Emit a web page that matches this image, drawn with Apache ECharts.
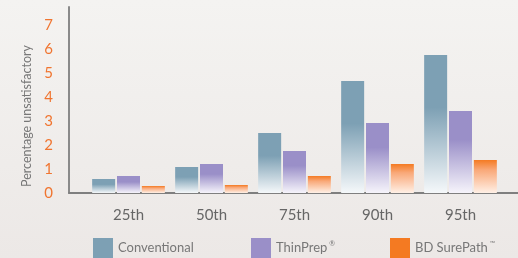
<!DOCTYPE html>
<html>
<head>
<meta charset="utf-8">
<script src="https://cdn.jsdelivr.net/npm/echarts@6/dist/echarts.min.js"></script>
<style>
html,body{margin:0;padding:0;}
#chart{width:518px;height:258px;}
</style>
</head>
<body>
<div id="chart"></div>
<script>
var categories = ['25th', '50th', '75th', '90th', '95th'];
var conventional = [0.58, 1.08, 2.5, 4.67, 5.75];
var thinPrep = [0.71, 1.21, 1.75, 2.92, 3.42];
var surePath = [0.29, 0.33, 0.71, 1.21, 1.38];
var yTicks = [0, 1, 2, 3, 4, 5, 6, 7];

function fade(top, mid, bottom, stop){
	return new echarts.graphic.LinearGradient(0, 0, 0, 1, [
		{offset: 0, color: top},
		{offset: stop, color: mid},
		{offset: 1, color: bottom}
	]);
}

var fontName = 'Lato, "Open Sans", sans-serif';
var chart = echarts.init(document.getElementById('chart'));
var option = {
	backgroundColor: new echarts.graphic.LinearGradient(0, 0, 0, 1, [
		{offset: 0, color: '#F4F3F1'},
		{offset: 1, color: '#ECE8E6'}
	]),
	textStyle: {fontFamily: fontName},
	grid: [
		{left: 87, right: 16, top: 7, bottom: 65},
		{left: 69, right: 0, top: 7, bottom: 65}
	],
	xAxis: [
		{
			type: 'category', gridIndex: 0, data: categories,
			axisLine: {show: false}, axisTick: {show: false},
			axisLabel: {color: '#666', fontSize: 15, margin: 15}
		},
		{
			type: 'value', gridIndex: 1, min: 0, max: 1,
			axisLine: {show: true, onZero: false, lineStyle: {color: '#7f7f7f', width: 2}},
			axisTick: {show: false}, axisLabel: {show: false}, splitLine: {show: false}
		}
	],
	yAxis: [
		{
			type: 'value', gridIndex: 0, min: 0, max: 7.75,
			show: false
		},
		{
			type: 'value', gridIndex: 1, min: 0, max: 7.75, interval: 1,
			axisLine: {show: true, lineStyle: {color: '#8a8a8a', width: 2}},
			axisTick: {show: false}, splitLine: {show: false},
			axisLabel: {
				color: '#F07530', fontSize: 15, margin: 16, showMaxLabel: false,
				formatter: function(v){ return yTicks.indexOf(v) >= 0 ? String(v) : ''; }
			}
		}
	],
	graphic: [{
		type: 'text', left: 20, top: 45,
		rotation: Math.PI / 2,
		style: {text: 'Percentage unsatisfactory', fill: '#777', fontSize: 12.5, fontFamily: fontName}
	}],
	legend: [
		{data: ['Conventional'], left: 93, itemStyle: {color: '#7DA0B4'}},
		{data: ['ThinPrep'], left: 251, itemStyle: {color: '#9A8FC8'},
			formatter: function(n){ return '{a|' + n + '}{s|®}'; }},
		{data: ['BD SurePath'], left: 390, itemStyle: {color: '#F47A22'},
			formatter: function(n){ return '{a|' + n + '}{s|™}'; }}
	].map(function(l){
		l.top = 238; l.padding = 0;
		l.itemWidth = 20; l.itemHeight = 20; l.itemGap = 7;
		l.icon = 'rect';
		l.textStyle = {
			color: '#777', fontSize: 13, fontFamily: fontName,
			rich: {
				a: {color: '#777', fontSize: 13, fontFamily: fontName},
				s: {color: '#777', fontSize: 7, verticalAlign: 'top', padding: [0, 0, 8, 2]}
			}
		};
		return l;
	}),
	series: [
		{
			name: 'Conventional', type: 'bar', data: conventional,
			barWidth: 23, barGap: '8%',
			itemStyle: {color: fade('#7DA0B4', '#7DA0B4', '#F5F8FA', 0.38)}
		},
		{
			name: 'ThinPrep', type: 'bar', data: thinPrep,
			barWidth: 23, barGap: '8%',
			itemStyle: {color: fade('#9A8FC8', '#9A8FC8', '#F6F4FB', 0.35)}
		},
		{
			name: 'BD SurePath', type: 'bar', data: surePath,
			barWidth: 23, barGap: '8%',
			itemStyle: {color: fade('#F47A22', '#F9A878', '#FFF0E6', 0.3)}
		}
	]
};
chart.setOption(option);
</script>
</body>
</html>
